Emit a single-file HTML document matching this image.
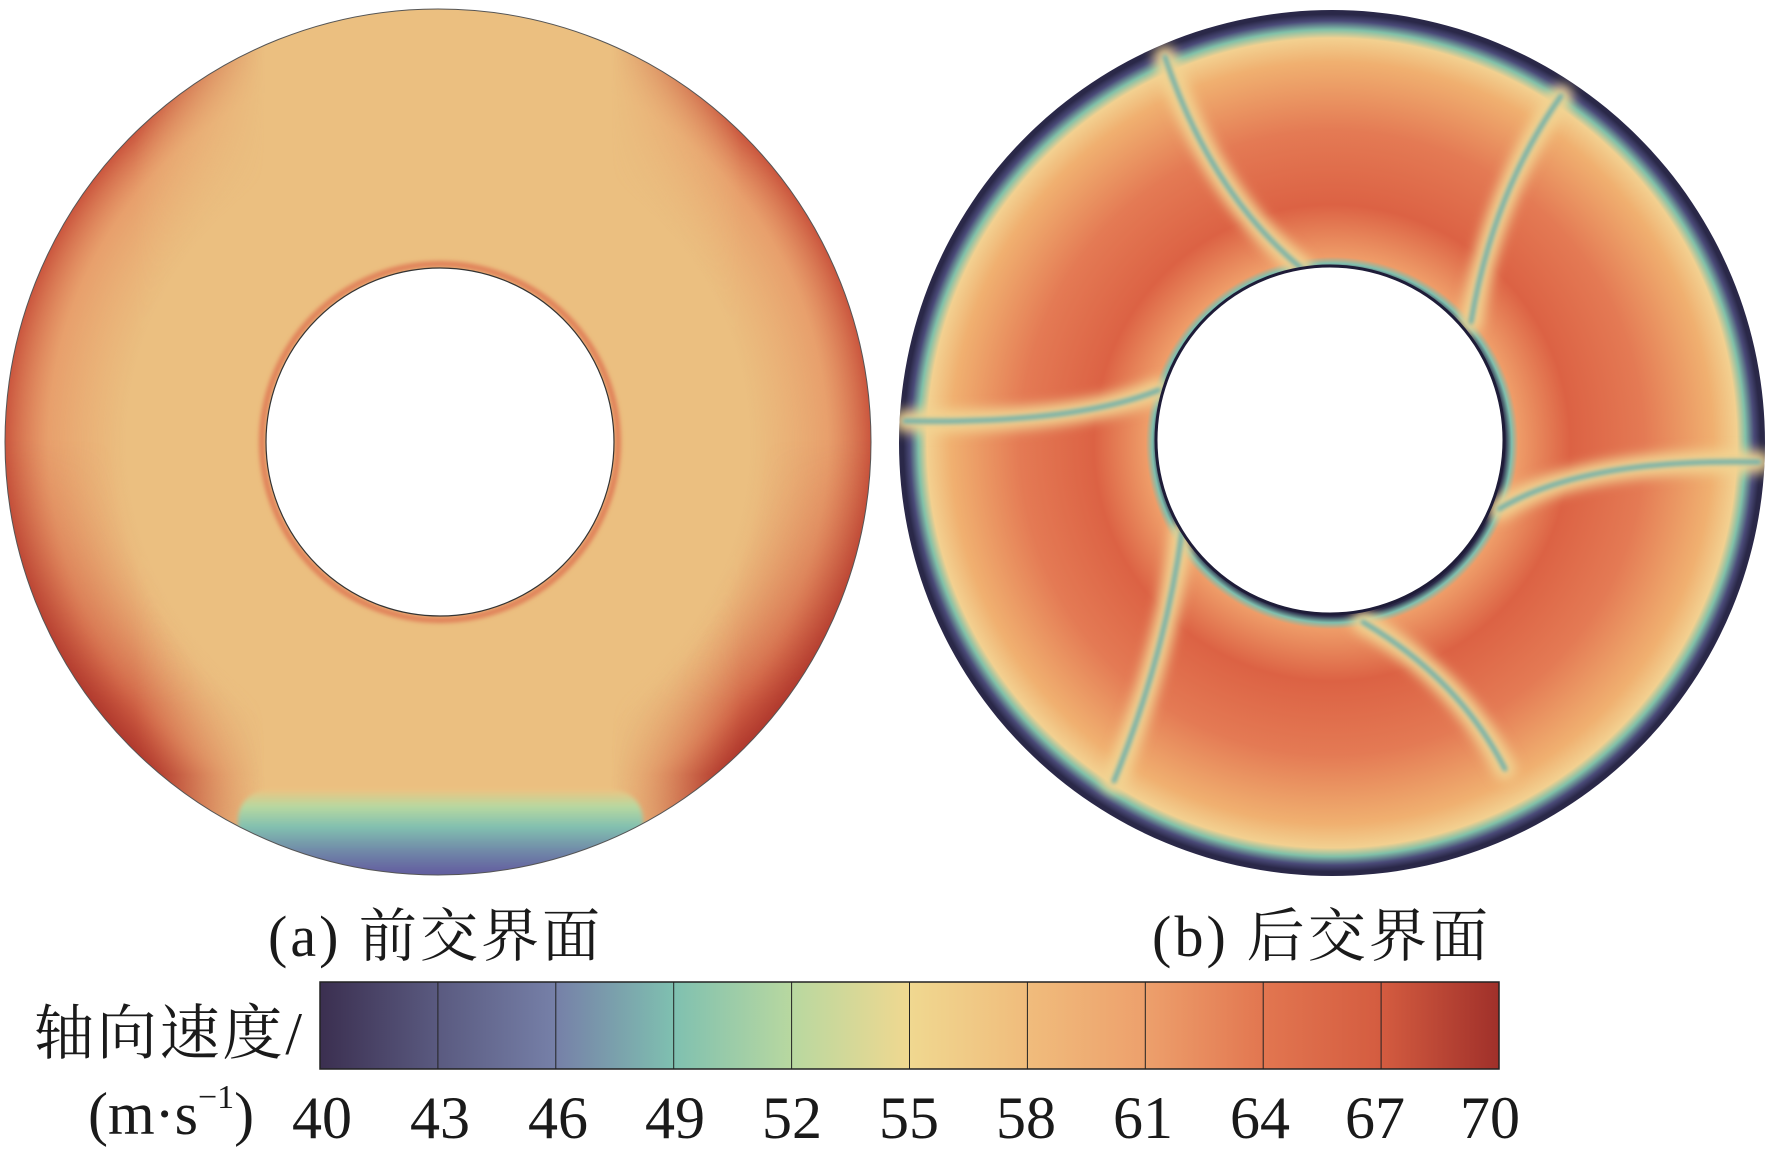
<!DOCTYPE html>
<html><head><meta charset="utf-8"><style>
html,body{margin:0;padding:0;background:#fff;width:1772px;height:1158px;overflow:hidden}
svg{display:block}
text{font-family:"Liberation Serif","Noto Serif CJK SC",serif;fill:#1a1a1a}
</style></head><body>
<svg width="1772" height="1158" viewBox="0 0 1772 1158" xmlns="http://www.w3.org/2000/svg">
<defs>
<clipPath id="ringA"><path clip-rule="evenodd" d="M438,442m-433,0a433,433 0 1,0 866,0a433,433 0 1,0 -866,0Z M440,442m-174,0a174,174 0 1,0 348,0a174,174 0 1,0 -348,0Z"/></clipPath>
<radialGradient id="rimA" cx="438" cy="442" r="433" gradientUnits="userSpaceOnUse">
<stop offset="0.72" stop-color="#e89060" stop-opacity="0"/>
<stop offset="0.9" stop-color="#e48058" stop-opacity="0.5"/>
<stop offset="1" stop-color="#c8503a" stop-opacity="0.95"/>
</radialGradient>
<radialGradient id="rimB" cx="438" cy="442" r="433" gradientUnits="userSpaceOnUse">
<stop offset="0.75" stop-color="#d05a40" stop-opacity="0"/>
<stop offset="0.92" stop-color="#c8503a" stop-opacity="0.7"/>
<stop offset="1" stop-color="#b03a2e" stop-opacity="1"/>
</radialGradient>
<linearGradient id="maskG" x1="5" x2="871" y1="0" y2="0" gradientUnits="userSpaceOnUse">
<stop offset="0" stop-color="#fff"/>
<stop offset="0.15" stop-color="#fff"/>
<stop offset="0.3" stop-color="#000"/>
<stop offset="0.7" stop-color="#000"/>
<stop offset="0.85" stop-color="#fff"/>
<stop offset="1" stop-color="#fff"/>
</linearGradient>
<linearGradient id="maskV" x1="0" x2="0" y1="0" y2="880" gradientUnits="userSpaceOnUse">
<stop offset="0" stop-color="#000"/>
<stop offset="0.5" stop-color="#000"/>
<stop offset="0.8" stop-color="#fff"/>
<stop offset="0.88" stop-color="#fff"/>
<stop offset="0.93" stop-color="#000"/>
</linearGradient>
<mask id="mA"><rect x="0" y="0" width="880" height="880" fill="url(#maskG)"/></mask>
<mask id="mV"><rect x="0" y="0" width="880" height="880" fill="url(#maskV)"/></mask>
<linearGradient id="blueA" x1="0" x2="0" y1="790" y2="872" gradientUnits="userSpaceOnUse">
<stop offset="0" stop-color="#ebc482"/>
<stop offset="0.2" stop-color="#b8d8a0"/>
<stop offset="0.45" stop-color="#82c0b0"/>
<stop offset="0.75" stop-color="#7088a8"/>
<stop offset="1" stop-color="#6460a0"/>
</linearGradient>
<filter id="bl" x="-50%" y="-50%" width="200%" height="200%"><feGaussianBlur stdDeviation="6"/></filter>
<filter id="bl2" x="-20%" y="-20%" width="140%" height="140%"><feGaussianBlur stdDeviation="2"/></filter>
<radialGradient id="radB" cx="1332" cy="443" r="433" gradientUnits="userSpaceOnUse">
<stop offset="0.40" stop-color="#2a2848"/>
<stop offset="0.415" stop-color="#7fbfae"/>
<stop offset="0.43" stop-color="#ee9c68"/>
<stop offset="0.55" stop-color="#dc6244"/>
<stop offset="0.72" stop-color="#e47a54"/>
<stop offset="0.88" stop-color="#f0b070"/>
<stop offset="0.935" stop-color="#f2d090"/>
<stop offset="0.955" stop-color="#80c0a8"/>
<stop offset="0.975" stop-color="#4a4a78"/>
<stop offset="0.99" stop-color="#2a2848"/>
<stop offset="1" stop-color="#2a2848"/>
</radialGradient>
<clipPath id="ringB"><path clip-rule="evenodd" d="M1332,443m-433,0a433,433 0 1,0 866,0a433,433 0 1,0 -866,0Z M1330,440m-175,0a175,175 0 1,0 350,0a175,175 0 1,0 -350,0Z"/></clipPath>
<linearGradient id="cb" x1="320" x2="1499" y1="0" y2="0" gradientUnits="userSpaceOnUse">
<stop offset="0" stop-color="#3b2f50"/>
<stop offset="0.1" stop-color="#5a5a80"/>
<stop offset="0.2" stop-color="#7680a8"/>
<stop offset="0.3" stop-color="#7fc0b0"/>
<stop offset="0.4" stop-color="#b8d8a0"/>
<stop offset="0.5" stop-color="#f0d890"/>
<stop offset="0.6" stop-color="#f0bc7c"/>
<stop offset="0.7" stop-color="#eda06c"/>
<stop offset="0.8" stop-color="#e27650"/>
<stop offset="0.9" stop-color="#d45c40"/>
<stop offset="1" stop-color="#a0302a"/>
</linearGradient>
</defs>

<!-- Ring A -->
<g clip-path="url(#ringA)">
<rect x="0" y="0" width="880" height="880" fill="#ebbf80"/>
<g mask="url(#mA)"><circle cx="438" cy="442" r="433" fill="url(#rimA)"/></g>
<g mask="url(#mV)"><g mask="url(#mA)"><circle cx="438" cy="442" r="433" fill="url(#rimB)"/></g></g>
<rect x="238" y="790" width="405" height="90" rx="30" fill="url(#blueA)" filter="url(#bl2)"/>
<circle cx="440" cy="442" r="178" fill="none" stroke="#e08058" stroke-width="6" filter="url(#bl2)"/>
</g>
<circle cx="440" cy="442" r="174" fill="#fff" stroke="#333" stroke-width="1.2"/>
<circle cx="438" cy="442" r="433" fill="none" stroke="#555" stroke-width="1"/>

<!-- Ring B -->
<g clip-path="url(#ringB)">
<rect x="890" y="0" width="882" height="890" fill="url(#radB)"/>
<g fill="none" stroke-linecap="round">
<g stroke="#f2d492" stroke-width="22" filter="url(#bl)">
<path d="M1159,390 Q1075,424 905,421"/>
<path d="M1301,268 Q1210,192 1165,57"/>
<path d="M1471,322 Q1493,192 1561,96"/>
<path d="M1499,509 Q1584,458 1759,462"/>
<path d="M1363,622 Q1459,679 1505,769"/>
<path d="M1182,532 Q1165,656 1114,781"/>
</g>
<g stroke="#6fb0aa" stroke-width="5" filter="url(#bl2)">
<path d="M1159,390 Q1075,424 905,421"/>
<path d="M1301,268 Q1210,192 1165,57"/>
<path d="M1471,322 Q1493,192 1561,96"/>
<path d="M1499,509 Q1584,458 1759,462"/>
<path d="M1363,622 Q1459,679 1505,769"/>
<path d="M1182,532 Q1165,656 1114,781"/>
</g>
</g>
</g>
<circle cx="1330" cy="440" r="174" fill="#fff" stroke="#1e1c38" stroke-width="3"/>

<!-- Titles -->
<text x="268" y="956" font-size="58" textLength="332">(a) 前交界面</text>
<text x="1152" y="956" font-size="58" textLength="336">(b) 后交界面</text>

<!-- Colorbar -->
<rect x="320" y="982" width="1179" height="87" fill="url(#cb)" stroke="#222" stroke-width="1.5"/>
<g stroke="#222" stroke-width="1">
<line x1="437.9" y1="982" x2="437.9" y2="1069"/><line x1="555.8" y1="982" x2="555.8" y2="1069"/>
<line x1="673.7" y1="982" x2="673.7" y2="1069"/><line x1="791.6" y1="982" x2="791.6" y2="1069"/>
<line x1="909.5" y1="982" x2="909.5" y2="1069"/><line x1="1027.4" y1="982" x2="1027.4" y2="1069"/>
<line x1="1145.3" y1="982" x2="1145.3" y2="1069"/><line x1="1263.2" y1="982" x2="1263.2" y2="1069"/>
<line x1="1381.1" y1="982" x2="1381.1" y2="1069"/>
</g>
<text x="34" y="1054" font-size="60" textLength="268">轴向速度/</text>
<text x="88" y="1134" font-size="60">(m·s<tspan font-size="34" dy="-26">−1</tspan><tspan dy="26">)</tspan></text>
<g font-size="60" text-anchor="middle">
<text x="322" y="1138">40</text><text x="440" y="1138">43</text><text x="558" y="1138">46</text>
<text x="675" y="1138">49</text><text x="792" y="1138">52</text><text x="909" y="1138">55</text>
<text x="1026" y="1138">58</text><text x="1143" y="1138">61</text><text x="1260" y="1138">64</text>
<text x="1375" y="1138">67</text><text x="1490" y="1138">70</text>
</g>
</svg>
</body></html>
